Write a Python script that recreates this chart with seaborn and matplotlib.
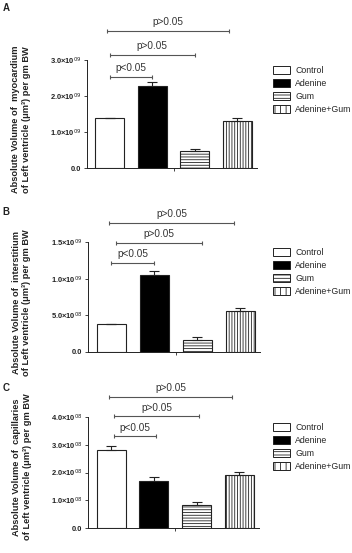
import matplotlib
matplotlib.use("Agg")

import matplotlib.pyplot as plt
import matplotlib.ticker as mticker
from matplotlib.patches import Patch
import seaborn as sns

# ── Data ──────────────────────────────────────────────────────────────────────
GROUPS = ["Control", "Adenine", "Gum", "Adenine+Gum"]

MYOCARDIUM = [1.38e9, 2.29e9, 0.48e9, 1.31e9]
MYOCARDIUM_ERR = [0.01e9, 0.09e9, 0.05e9, 0.09e9]

INTERSTITIUM = [0.378e9, 1.05e9, 0.17e9, 0.56e9]
INTERSTITIUM_ERR = [0.008e9, 0.05e9, 0.03e9, 0.04e9]

CAPILLARIES = [2.80e8, 1.70e8, 0.82e8, 1.92e8]
CAPILLARIES_ERR = [0.17e8, 0.14e8, 0.11e8, 0.09e8]

SIG_LABELS = ["p<0.05", "p>0.05", "p>0.05"]

# ── Style ─────────────────────────────────────────────────────────────────────
sns.set_theme(style="ticks")
plt.rcParams["font.family"] = ["Liberation Sans", "DejaVu Sans"]
plt.rcParams["hatch.linewidth"] = 0.6
plt.rcParams["hatch.color"] = "#222222"

FILLS = ["white", "black", "white", "white"]
HATCHES = ["", "", "------", "||||||"]
INK = "#222222"


def sci_fmt(v, pos):
    if v == 0:
        return "0.0"
    e = int(f"{v:e}".split("e")[1])
    m = v / 10 ** e
    return f"{m:.1f}\u00d710$^{{{e:02d}}}$"


def panel(fig, rect, letter, values, errs, ymax, ystep, label1, sig, letter_y,
          label_y=0.45):
    ax = fig.add_axes(rect)
    x = list(range(len(GROUPS)))
    sns.barplot(x=x, y=values, hue=x, palette=FILLS, edgecolor=INK,
                linewidth=0.8, width=0.68, legend=False, ax=ax)
    for patch, h in zip(ax.patches, HATCHES):
        patch.set_hatch(h)
    ax.errorbar(x, values, yerr=[[0] * len(errs), errs], fmt="none",
                ecolor=INK, elinewidth=0.8, capsize=3.5, capthick=0.8)

    ax.set_xlim(-0.54, 3.46)
    ax.set_ylim(0, ymax)
    ax.set_xticks([1.5])
    ax.set_xticklabels([""])
    ax.set_yticks([ystep * i for i in range(int(round(ymax / ystep)) + 1)])
    ax.yaxis.set_major_formatter(mticker.FuncFormatter(sci_fmt))
    ax.tick_params(axis="y", labelsize=5.4, length=2.5, width=0.6,
                   colors=INK, pad=1.5)
    ax.tick_params(axis="x", length=2.5, width=0.6, colors=INK)
    for lab in ax.get_yticklabels():
        lab.set_fontweight("bold")
    sns.despine(ax=ax)
    for s in ("left", "bottom"):
        ax.spines[s].set_linewidth(0.7)
        ax.spines[s].set_color(INK)

    # significance brackets
    for txt, (y, x0, x1) in zip(SIG_LABELS, sig):
        ax.plot([x0, x1], [y, y], color="#555555", lw=0.8, marker="|",
                markersize=3, markeredgewidth=0.8, clip_on=False)
        ax.text((x0 + x1) / 2, y + ymax * 0.035, txt, ha="center", va="bottom",
                fontsize=7.2, color="#333333", clip_on=False)

    ax.set_ylabel(label1 + "\nof Left ventricle (\u03bcm\u00b3) per gm BW",
                  fontsize=6.7, fontweight="bold", color=INK,
                  linespacing=1.2)
    ax.yaxis.set_label_coords(-0.33, label_y)

    fig.text(0.008, letter_y, letter, fontsize=7, fontweight="bold",
             color=INK, va="center")

    handles = [Patch(facecolor=c, edgecolor=INK, hatch=h, linewidth=0.7)
               for c, h in zip(FILLS, ["", "", "-----", "|||"])]
    fig.legend(handles, GROUPS, loc="upper left",
               bbox_to_anchor=(0.762, rect[1] + rect[3] - 0.003),
               frameon=False, fontsize=6.3, handlelength=2.0, handleheight=0.95,
               handletextpad=0.6, labelspacing=0.45, borderpad=0.0)
    return ax


fig = plt.figure(figsize=(3.52, 5.53), dpi=100)

panel(fig, [0.247, 0.696, 0.483, 0.1955], "A", MYOCARDIUM, MYOCARDIUM_ERR,
      3.0e9, 1.0e9, "Absolute Volume of  myocardium",
      [(2.53e9, 0.0, 1.0), (3.14e9, 0.0, 2.0), (3.81e9, -0.07, 2.8)], 0.985)

panel(fig, [0.25, 0.3635, 0.489, 0.199], "B", INTERSTITIUM, INTERSTITIUM_ERR,
      1.5e9, 0.5e9, "Absolute Volume of  interstitium",
      [(1.214e9, 0.0, 1.0), (1.487e9, 0.1, 2.1), (1.76e9, -0.05, 2.85)], 0.617)

panel(fig, [0.25, 0.0452, 0.486, 0.2007], "C", CAPILLARIES, CAPILLARIES_ERR,
      4.0e8, 1.0e8, "Absolute Volume of  capillaries",
      [(3.30e8, 0.07, 1.05), (4.02e8, 0.07, 2.05), (4.71e8, -0.05, 2.83)], 0.298,
      label_y=0.55)

fig.savefig("out.png", dpi=100)
